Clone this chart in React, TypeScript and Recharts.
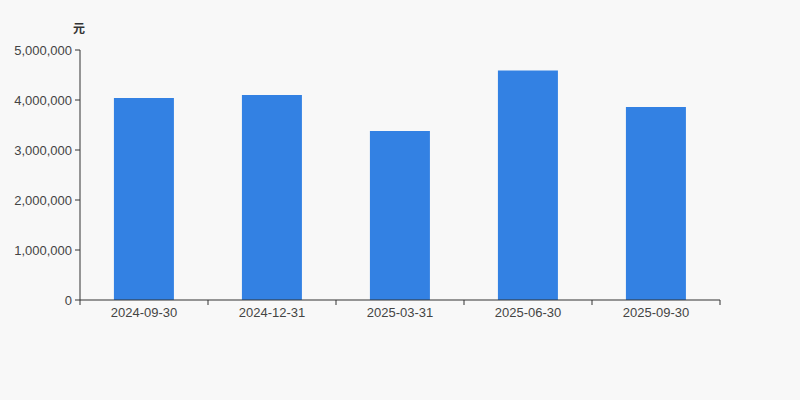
import React from 'react';
import { BarChart, Bar, XAxis, YAxis } from 'recharts';

const periods = ['2024-09-30', '2024-12-31', '2025-03-31', '2025-06-30', '2025-09-30'];
const amounts = [4040000, 4100000, 3380000, 4590000, 3860000];
const yTicks = [0, 1000000, 2000000, 3000000, 4000000, 5000000];

const data = periods.map((p, i) => ({ period: p, value: amounts[i] }));

const FONT = '"Liberation Sans", Arial, "Noto Sans CJK SC", sans-serif';
const HALF_BAND = 64;

// category labels, with tick marks on the band edges (between the bars)
function PeriodTick(props: any) {
  const { x, y, payload, index, visibleTicksCount } = props;
  const axisY = y - 7;
  const last = index === visibleTicksCount - 1;
  return (
    <g>
      <line x1={x - HALF_BAND} x2={x - HALF_BAND} y1={axisY} y2={axisY + 5} stroke="#333" />
      {last && <line x1={x + HALF_BAND} x2={x + HALF_BAND} y1={axisY} y2={axisY + 5} stroke="#333" />}
      <text x={x} y={y} dy={10} textAnchor="middle" fill="#444" fontSize={13} fontFamily={FONT}>
        {payload.value}
      </text>
    </g>
  );
}

export default function App() {
  return (
    <div style={{ position: 'fixed', left: 0, top: 0, width: 800, height: 400, background: '#f8f8f8' }}>
      <div style={{ position: 'absolute', left: 73, top: 19, fontSize: 12, fontWeight: 'bold', color: '#333', fontFamily: FONT }}>
        元
      </div>
      <BarChart width={800} height={400} data={data} margin={{ top: 50, right: 80, bottom: 70, left: 0 }} barCategoryGap="26.5%">
        <XAxis
          dataKey="period"
          stroke="#333"
          tickLine={false}
          tickSize={5}
          tickMargin={2}
          tick={<PeriodTick />}
          interval={0}
          height={30}
        />
        <YAxis
          width={80}
          domain={[0, 5000000]}
          ticks={yTicks}
          stroke="#333"
          tickSize={5}
          tickMargin={3}
          tick={{ fill: '#444', fontSize: 13, fontFamily: FONT }}
          tickFormatter={(v: number) => v.toLocaleString('en-US')}
          interval={0}
        />
        <Bar dataKey="value" fill="#3381e3" isAnimationActive={false} />
      </BarChart>
    </div>
  );
}
